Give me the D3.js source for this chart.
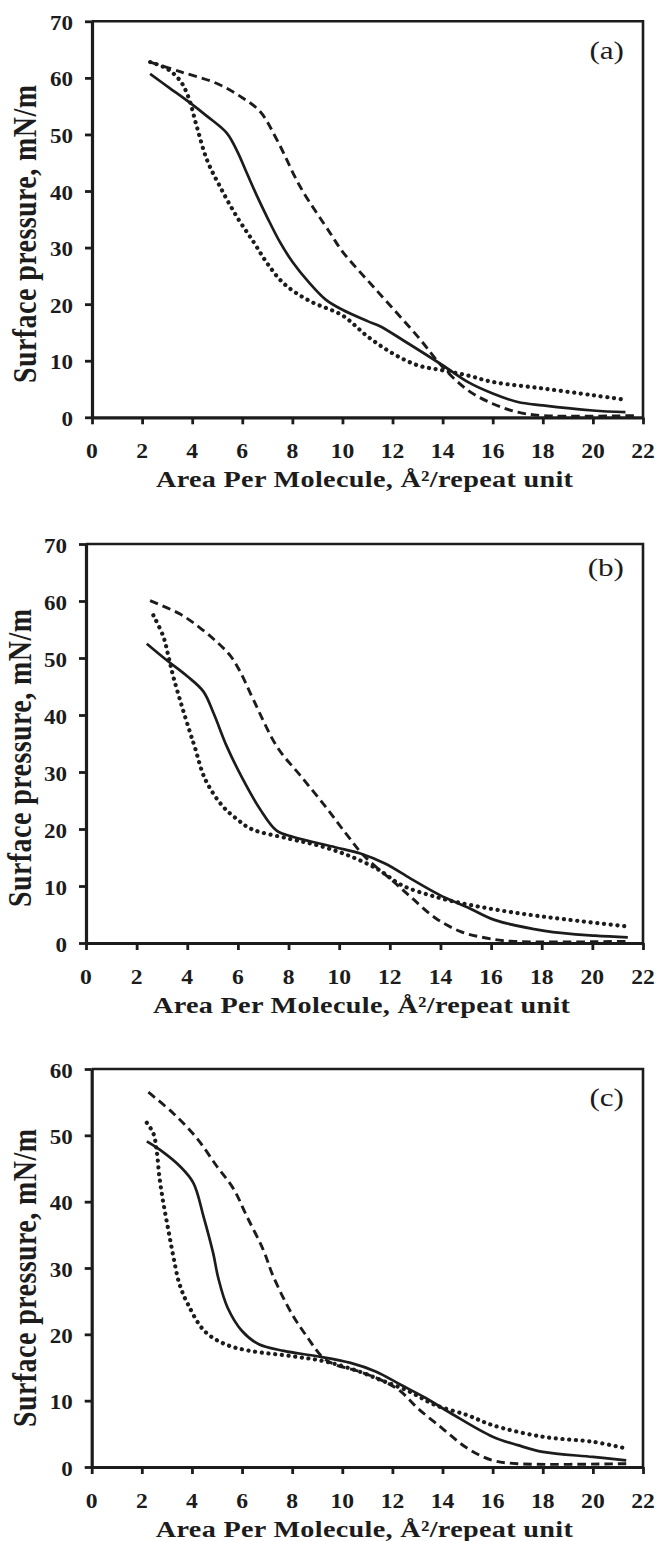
<!DOCTYPE html>
<html>
<head>
<meta charset="utf-8">
<script src="https://cdn.jsdelivr.net/npm/d3@7"></script>
<style>
  html, body { margin: 0; padding: 0; background: #fff; }
  svg { display: block; }
</style>
</head>
<body>
<svg id="fig" width="656" height="1541"></svg>
<script>
// ---- data -------------------------------------------------------------
const xTicks = [0, 2, 4, 6, 8, 10, 12, 14, 16, 18, 20, 22];
const yTicks70 = [0, 10, 20, 30, 40, 50, 60, 70];
const yTicks60 = [0, 10, 20, 30, 40, 50, 60];
const panelNames = ["(a)", "(b)", "(c)"];
const xTitle = "Area Per Molecule, \u00C5\u00B2/repeat unit";
const yTitle = "Surface pressure, mN/m";

// (a) isotherms: [area, pressure]
const aSolid = [[2.32,60.7],[3.1,58.2],[3.85,55.8],[4.6,53.2],[5.39,50.2],[5.8,47.0],[6.19,43.1],[6.6,39.0],
  [6.99,35.4],[7.5,31.0],[8.0,27.5],[8.67,23.8],[9.33,20.8],[10.0,19.0],[11.0,17.0],[11.5,16.1],[12.5,13.4],
  [14.0,9.2],[15.0,6.25],[16.0,4.2],[17.0,2.7],[18.0,2.1],[20.0,1.2],[21.3,0.9]];
const aDashed = [[2.32,62.8],[3.52,61.1],[4.99,59.0],[6.0,56.5],[6.72,54.0],[7.39,49.0],[8.32,40.7],[9.52,32.5],
  [10.0,29.3],[11.33,22.6],[13.0,14.3],[14.0,8.9],[15.0,4.8],[16.0,2.4],[17.0,0.9],[18.0,0.3],[21.8,0.3]];
const aDotted = [[2.32,62.8],[3.0,61.6],[3.52,59.5],[3.85,56.6],[4.19,51.3],[4.59,45.5],[5.12,40.7],[5.79,35.4],
  [6.45,31.0],[7.0,27.2],[7.67,23.6],[8.67,20.6],[10.0,18.0],[11.0,14.3],[12.0,11.3],[13.0,9.2],[14.0,8.3],
  [15.0,7.4],[16.0,6.25],[18.0,5.1],[20.0,3.9],[21.3,3.1]];

// (b)
const bSolid = [[2.4,52.5],[3.19,49.6],[4.0,46.8],[4.64,44.1],[5.04,40.3],[5.57,34.4],[6.2,28.7],[6.87,23.5],
  [7.53,19.7],[8.19,18.6],[9.84,16.8],[10.84,15.7],[11.83,13.9],[12.82,11.3],[13.98,8.4],[15.14,6.1],
  [16.13,4.06],[18.11,2.14],[20.1,1.28],[21.4,0.99]];
const bDashed = [[2.53,60.05],[3.72,57.7],[4.5,55.3],[5.17,52.8],[5.7,50.4],[6.09,47.6],[6.62,42.6],[7.55,34.4],
  [8.5,29.2],[9.5,23.7],[10.3,19.0],[11.0,15.2],[12.16,10.7],[12.82,8.1],[13.81,4.35],[14.8,2.0],[15.8,0.87],
  [16.8,0.3],[21.4,0.3]];
const bDotted = [[2.66,57.5],[3.06,53.7],[3.26,50.2],[3.45,46.7],[3.79,41.5],[4.12,36.8],[4.31,34.2],[4.7,28.8],
  [5.38,24.1],[6.0,21.6],[6.53,20.0],[8.02,18.3],[9.18,17.1],[10.34,15.4],[11.5,13.0],[12.49,10.1],
  [13.81,8.1],[15.14,6.7],[17.12,5.2],[19.1,4.06],[21.4,2.9]];

// (c)
const cSolid = [[2.2,49.1],[2.73,47.8],[3.53,45.3],[4.06,42.8],[4.46,37.8],[4.85,32.2],[5.05,28.5],[5.42,24.05],
  [6.0,20.5],[6.67,18.5],[7.67,17.5],[9.0,16.7],[10.33,15.7],[11.33,14.4],[12.33,12.4],[13.33,10.4],
  [14.33,8.1],[16.0,4.56],[17.0,3.3],[18.0,2.28],[20.0,1.52],[21.33,1.0]];
const cDashed = [[2.26,56.5],[3.26,53.3],[4.19,49.6],[5.0,45.3],[5.65,42.0],[6.19,37.8],[6.85,32.7],[7.25,28.7],
  [8.0,23.0],[8.6,19.6],[9.2,16.6],[9.67,15.5],[10.67,14.4],[11.67,12.9],[12.33,11.4],[13.0,8.9],[14.0,5.8],
  [15.0,2.8],[16.0,1.0],[17.0,0.5],[21.33,0.5]];
const cDotted = [[2.2,51.9],[2.46,50.3],[2.59,47.8],[2.7,43.8],[2.86,39.8],[3.06,35.7],[3.26,31.7],[3.5,27.6],
  [3.83,24.6],[4.5,20.5],[5.33,18.5],[6.33,17.5],[8.0,16.7],[9.33,15.9],[10.67,14.4],[11.67,12.9],
  [12.67,11.4],[13.67,9.4],[15.0,7.8],[16.0,6.3],[18.0,4.56],[20.0,3.8],[21.33,2.8]];

// ---- layout -----------------------------------------------------------
const panels = [
  { name: panelNames[0], left: 92, right: 643, top: 21.3, bottom: 417.3, yMax: 70, yTicks: yTicks70,
    solid: aSolid, dashed: aDashed, dotted: aDotted, titleX: 36, titleCY: 234, labelY: 58.7 },
  { name: panelNames[1], left: 86, right: 643, top: 544, bottom: 943, yMax: 70, yTicks: yTicks70,
    solid: bSolid, dashed: bDashed, dotted: bDotted, titleX: 31, titleCY: 758, labelY: 575.7 },
  { name: panelNames[2], left: 91.7, right: 643, top: 1069, bottom: 1467, yMax: 60, yTicks: yTicks60,
    solid: cSolid, dashed: cDashed, dotted: cDotted, titleX: 36, titleCY: 1278, labelY: 1105.7 }
];

const INK = "#1c1c1c";
const SERIF = "'Liberation Serif', 'Times New Roman', serif";
const SX = 1.2;   // glyphs are drawn slightly wide

const svg = d3.select("#fig");

// text helper: positioned group, horizontally widened
function wideText(parent, x, y, str, opts) {
  const g = parent.append("g").attr("transform", `translate(${x},${y}) scale(${opts.sx || SX},1)` + (opts.rotate ? ` rotate(${opts.rotate})` : ""));
  const t = g.append("text")
    .attr("x", 0).attr("y", 0)
    .attr("text-anchor", opts.anchor || "middle")
    .attr("font-family", SERIF)
    .attr("font-weight", opts.weight || "bold")
    .attr("font-size", opts.size)
    .attr("fill", INK)
    .text(str);
  if (opts.length) t.attr("textLength", opts.length).attr("lengthAdjust", "spacing");
  return t;
}

panels.forEach(p => {
  const x = d3.scaleLinear().domain([0, 22]).range([p.left, p.right]);
  const y = d3.scaleLinear().domain([0, p.yMax]).range([p.bottom, p.top]);
  const g = svg.append("g");

  // frame: top and right edges
  g.append("path")
    .attr("d", `M${x(0)},${y(p.yMax)}H${x(22)}V${y(0)}`)
    .attr("fill", "none").attr("stroke", INK).attr("stroke-width", 2.6);

  // axes
  const ax = g.append("g").attr("transform", `translate(0,${y(0)})`)
    .call(d3.axisBottom(x).tickValues(xTicks).tickSize(7).tickSizeOuter(0).tickFormat(""));
  const ay = g.append("g").attr("transform", `translate(${x(0)},0)`)
    .call(d3.axisLeft(y).tickValues(p.yTicks).tickSize(7).tickSizeOuter(0).tickFormat(""));
  [ax, ay].forEach(a => {
    a.select(".domain").attr("stroke", INK).attr("stroke-width", 3.2);
    a.selectAll(".tick line").attr("stroke", INK).attr("stroke-width", 2.8);
  });

  // tick labels
  xTicks.forEach(v => wideText(g, x(v), y(0) + 40.5, String(v), { size: 20, anchor: "middle", sx: 1.18 }));
  p.yTicks.forEach(v => wideText(g, x(0) - 19, y(v) + 8.5, String(v), { size: 20, anchor: "end", sx: 1.15 }));

  // axis titles
  wideText(g, (x(0) + x(22)) / 2 - 3, y(0) + 70, xTitle, { size: 23.5, anchor: "middle", length: 417 / SX });
  wideText(g, p.titleX, p.titleCY, yTitle, { size: 28, anchor: "middle", rotate: -90, length: 298 });

  // panel tag
  wideText(g, 624, p.labelY, p.name, { size: 26, anchor: "end", weight: "normal", sx: 1.2 });

  // isotherms
  const line = d3.line().x(d => x(d[0])).y(d => y(d[1])).curve(d3.curveCatmullRom.alpha(0.5));
  g.append("path").datum(p.solid).attr("d", line)
    .attr("fill", "none").attr("stroke", INK).attr("stroke-width", 2.7).attr("stroke-linejoin", "round");
  g.append("path").datum(p.dashed).attr("d", line)
    .attr("fill", "none").attr("stroke", INK).attr("stroke-width", 2.9).attr("stroke-dasharray", "8.5 5");
  g.append("path").datum(p.dotted).attr("d", line)
    .attr("fill", "none").attr("stroke", INK).attr("stroke-width", 4.2)
    .attr("stroke-linecap", "round").attr("stroke-dasharray", "0.1 6.6");
});
</script>
</body>
</html>
